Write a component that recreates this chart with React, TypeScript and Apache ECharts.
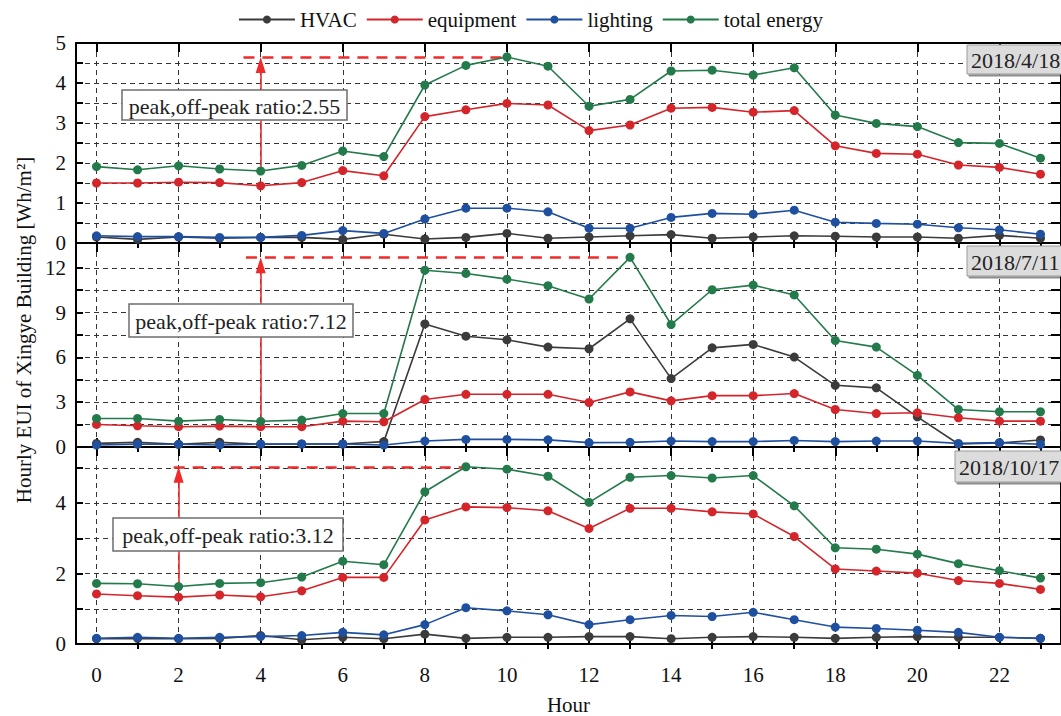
import React, { useEffect, useRef } from 'react';
import * as echarts from 'echarts';

// ---- data ----
const hours = [0, 1, 2, 3, 4, 5, 6, 7, 8, 9, 10, 11, 12, 13, 14, 15, 16, 17, 18, 19, 20, 21, 22, 23];
const evenHours = [0, 2, 4, 6, 8, 10, 12, 14, 16, 18, 20, 22];
const oddHours = [1, 3, 5, 7, 9, 11, 13, 15, 17, 19, 21, 23];

// 2018/4/18
const hvacApr = [0.15, 0.09, 0.15, 0.12, 0.14, 0.14, 0.09, 0.22, 0.10, 0.14, 0.24, 0.12, 0.15, 0.18, 0.21, 0.12, 0.15, 0.18, 0.17, 0.15, 0.15, 0.12, 0.19, 0.12];
const equipApr = [1.50, 1.50, 1.52, 1.51, 1.43, 1.51, 1.81, 1.68, 3.16, 3.33, 3.49, 3.45, 2.81, 2.95, 3.37, 3.39, 3.27, 3.31, 2.43, 2.24, 2.22, 1.95, 1.89, 1.72];
const lightApr = [0.18, 0.16, 0.16, 0.14, 0.14, 0.19, 0.31, 0.24, 0.60, 0.87, 0.87, 0.78, 0.37, 0.37, 0.64, 0.74, 0.72, 0.82, 0.52, 0.49, 0.47, 0.38, 0.33, 0.22];
const totalApr = [1.91, 1.83, 1.93, 1.85, 1.80, 1.94, 2.30, 2.16, 3.95, 4.44, 4.65, 4.42, 3.42, 3.59, 4.30, 4.32, 4.20, 4.38, 3.20, 2.99, 2.91, 2.51, 2.49, 2.12];

// 2018/7/11
const hvacJul = [0.24, 0.31, 0.18, 0.31, 0.18, 0.20, 0.20, 0.36, 8.24, 7.42, 7.18, 6.69, 6.58, 8.58, 4.58, 6.64, 6.87, 6.02, 4.13, 3.96, 2.02, 0.20, 0.27, 0.47];
const equipJul = [1.51, 1.42, 1.36, 1.40, 1.36, 1.36, 1.73, 1.69, 3.18, 3.53, 3.53, 3.53, 2.98, 3.69, 3.09, 3.44, 3.44, 3.58, 2.51, 2.24, 2.29, 1.96, 1.73, 1.73];
const lightJul = [0.13, 0.18, 0.18, 0.13, 0.20, 0.20, 0.20, 0.13, 0.40, 0.51, 0.51, 0.48, 0.29, 0.31, 0.40, 0.36, 0.36, 0.44, 0.36, 0.40, 0.40, 0.24, 0.29, 0.18];
const totalJul = [1.91, 1.91, 1.73, 1.84, 1.72, 1.80, 2.24, 2.24, 11.84, 11.62, 11.24, 10.80, 9.91, 12.70, 8.20, 10.53, 10.84, 10.18, 7.13, 6.69, 4.80, 2.51, 2.36, 2.36];

// 2018/10/17
const hvacOct = [0.15, 0.16, 0.15, 0.16, 0.24, 0.12, 0.19, 0.15, 0.28, 0.16, 0.19, 0.19, 0.21, 0.21, 0.15, 0.19, 0.21, 0.19, 0.16, 0.19, 0.21, 0.19, 0.19, 0.16];
const equipOct = [1.42, 1.37, 1.33, 1.39, 1.34, 1.51, 1.89, 1.89, 3.52, 3.89, 3.87, 3.78, 3.28, 3.85, 3.85, 3.75, 3.69, 3.05, 2.13, 2.07, 2.01, 1.80, 1.72, 1.55];
const lightOct = [0.16, 0.19, 0.16, 0.19, 0.21, 0.24, 0.33, 0.26, 0.55, 1.03, 0.94, 0.83, 0.55, 0.69, 0.81, 0.78, 0.90, 0.69, 0.48, 0.44, 0.39, 0.33, 0.19, 0.16];
const totalOct = [1.72, 1.71, 1.63, 1.72, 1.74, 1.90, 2.35, 2.25, 4.32, 5.03, 4.96, 4.76, 4.02, 4.73, 4.78, 4.71, 4.78, 3.92, 2.73, 2.69, 2.55, 2.28, 2.08, 1.87];

// y tick / label values per panel
const yTicksApr = [0, 0.5, 1, 1.5, 2, 2.5, 3, 3.5, 4, 4.5, 5];
const yLabelsApr = [0, 1, 2, 3, 4, 5];
const yTicksJul = [0, 1.5, 3, 4.5, 6, 7.5, 9, 10.5, 12];
const yLabelsJul = [0, 3, 6, 9, 12];
const yTicksOct = [0, 1, 2, 3, 4, 5];
const yLabelsOct = [0, 2, 4];

const seriesNames = ['HVAC', 'equipment', 'lighting', 'total energy'];
const dates = ['2018/4/18', '2018/7/11', '2018/10/17'];
const ratios = ['2.55', '7.12', '3.12'];
// off-peak hour and peak (hour, level) marks
const offPeakHours = [4, 4, 2];
const peakHours = [10, 13, 9];
const peakLevels = [4.65, 12.7, 5.02];
const dashStarts = [3.58, 3.64, 1.88];

const FONT = '"Liberation Serif", "Times New Roman", serif';
const COLORS = ['#3b3b3b', '#d4252b', '#1f4f9f', '#237a4a'];
const RED = '#f02a2a';
const ARROW_HEAD = 16; // px length of arrow head

const panels = [
  { data: [hvacApr, equipApr, lightApr, totalApr], max: 5, ticks: yTicksApr, labels: yLabelsApr },
  { data: [hvacJul, equipJul, lightJul, totalJul], max: 13.66, ticks: yTicksJul, labels: yLabelsJul },
  { data: [hvacOct, equipOct, lightOct, totalOct], max: 5.59, ticks: yTicksOct, labels: yLabelsOct },
];

const gridTops = [43, 243, 447];
const gridHeights = [200, 204, 205];

function buildOption() {
  const grid: any[] = [];
  const xAxis: any[] = [];
  const yAxis: any[] = [];
  const series: any[] = [];

  panels.forEach((p, i) => {
    grid.push({ left: 76, right: -5, top: gridTops[i], height: gridHeights[i] });
    const xBase = {
      type: 'value', gridIndex: i, min: -0.5, max: 23.5,
      axisLine: { show: false },
      axisLabel: { show: false },
      splitLine: { show: false },
    };
    xAxis.push({
      ...xBase, position: 'bottom',
      axisLine: { show: true, onZero: false, lineStyle: { color: '#000', width: 2 } },
      axisTick: { show: true, inside: true, length: 9, customValues: evenHours, lineStyle: { color: '#000', width: 2 } },
      axisLabel: {
        show: i === 2, customValues: evenHours, color: '#111', fontSize: 21, fontFamily: FONT, margin: 20,
      },
      splitLine: { show: true, lineStyle: { color: '#333', width: 1, type: [5, 4] } },
      name: i === 2 ? 'Hour' : '',
      nameLocation: 'middle', nameGap: 50,
      nameTextStyle: { color: '#111', fontSize: 21, fontFamily: FONT },
    });
    xAxis.push({
      ...xBase, position: 'bottom',
      axisTick: { show: true, inside: true, length: 5, customValues: oddHours, lineStyle: { color: '#000', width: 2 } },
    });
    xAxis.push({
      ...xBase, position: 'top',
      axisLine: { show: true, onZero: false, lineStyle: { color: '#000', width: 2 } },
      axisTick: { show: true, inside: true, length: 9, customValues: evenHours, lineStyle: { color: '#000', width: 2 } },
    });
    xAxis.push({
      ...xBase, position: 'top',
      axisTick: { show: true, inside: true, length: 5, customValues: oddHours, lineStyle: { color: '#000', width: 2 } },
    });

    yAxis.push({
      type: 'value', gridIndex: i, position: 'left', min: 0, max: p.max,
      axisLine: { show: true, onZero: false, lineStyle: { color: '#000', width: 2 } },
      axisTick: { show: true, inside: true, length: 7, customValues: p.ticks, lineStyle: { color: '#000', width: 2 } },
      axisLabel: { customValues: p.labels, color: '#111', fontSize: 21, fontFamily: FONT, margin: 10 },
      splitLine: { show: true, lineStyle: { color: '#333', width: 1, type: [5, 4] } },
    });
    yAxis.push({
      type: 'value', gridIndex: i, position: 'right', min: 0, max: p.max,
      axisLine: { show: true, onZero: false, lineStyle: { color: '#000', width: 2 } },
      axisTick: { show: true, inside: true, length: 10, customValues: p.ticks, lineStyle: { color: '#000', width: 2 } },
      axisLabel: { show: false },
      splitLine: { show: false },
    });

    p.data.forEach((vals, k) => {
      const s: any = {
        type: 'line',
        name: seriesNames[k],
        xAxisIndex: i * 4,
        yAxisIndex: i * 2,
        data: hours.map((h, j) => [h, vals[j]]),
        symbol: 'circle',
        symbolSize: 9,
        itemStyle: { color: COLORS[k] },
        lineStyle: { color: COLORS[k], width: 1.6 },
        z: 2 + k,
      };
      if (k === 3) {
        const oh = offPeakHours[i];
        const base = vals[hours.indexOf(oh)];
        const headUnits = (ARROW_HEAD / 2) * p.max / gridHeights[i];
        s.markLine = {
          silent: true,
          animation: false,
          symbol: 'none',
          label: { show: false },
          data: [
            [
              { coord: [dashStarts[i], peakLevels[i]], lineStyle: { type: [11, 8], width: 2.5, color: RED } },
              { coord: [peakHours[i], peakLevels[i]] },
            ],
            [
              { coord: [oh, base], symbol: 'none', lineStyle: { type: 'solid', width: 1.6, color: RED } },
              { coord: [oh, peakLevels[i] - headUnits], symbol: 'triangle', symbolSize: [10, ARROW_HEAD] },
            ],
          ],
        };
      }
      series.push(s);
    });
  });

  const dateBoxes = [
    { x: 967, y: 45, h: 29 },
    { x: 967, y: 246, h: 30 },
    { x: 955, y: 451, h: 31 },
  ];
  const noteBoxes = [
    { x: 122, y: 90, w: 225, h: 30 },
    { x: 129, y: 304, w: 224, h: 33 },
    { x: 113, y: 518, w: 230, h: 33 },
  ];

  const graphic: any[] = [];
  dateBoxes.forEach((b, i) => {
    graphic.push({
      type: 'rect', z: 20,
      shape: { x: b.x, y: b.y, width: 1061 - b.x + 10, height: b.h },
      style: { fill: '#dcdcdc', stroke: '#9a9a9a', lineWidth: 1, shadowColor: 'rgba(0,0,0,0.45)', shadowOffsetX: 2, shadowOffsetY: 2, shadowBlur: 1 },
    });
    graphic.push({
      type: 'text', z: 21, x: b.x + 4, y: b.y + b.h / 2 + 1,
      style: { text: dates[i], font: `22px ${FONT}`, fill: '#222', align: 'left', verticalAlign: 'middle' },
    });
  });
  noteBoxes.forEach((b, i) => {
    graphic.push({
      type: 'rect', z: 20,
      shape: { x: b.x, y: b.y, width: b.w, height: b.h },
      style: { fill: '#fff', stroke: '#6e6e6e', lineWidth: 1.5 },
    });
    graphic.push({
      type: 'text', z: 21, x: b.x + b.w / 2, y: b.y + b.h / 2 + 1,
      style: { text: `peak,off-peak ratio:${ratios[i]}`, font: `22px ${FONT}`, fill: '#222', align: 'center', verticalAlign: 'middle' },
    });
  });
  graphic.push({
    type: 'text', z: 21, x: 24, y: 330, rotation: Math.PI / 2,
    style: { text: 'Hourly EUI of Xingye Building [Wh/m²]', font: `21px ${FONT}`, fill: '#111', align: 'center', verticalAlign: 'middle' },
  });

  return {
    animation: false,
    backgroundColor: '#fff',
    textStyle: { fontFamily: FONT },
    legend: {
      data: seriesNames,
      top: 4,
      left: 'center',
      itemWidth: 56,
      itemHeight: 10,
      itemGap: 9,
      textStyle: { fontSize: 21, color: '#111', fontFamily: FONT },
    },
    grid,
    xAxis,
    yAxis,
    series,
    graphic,
  };
}

export default function App() {
  const ref = useRef<HTMLDivElement>(null);
  useEffect(() => {
    document.body.style.margin = '0';
    const chart = echarts.init(ref.current!, null, { renderer: 'svg' });
    chart.setOption(buildOption() as any);
    return () => chart.dispose();
  }, []);
  return <div ref={ref} style={{ width: 1061, height: 716 }} />;
}
